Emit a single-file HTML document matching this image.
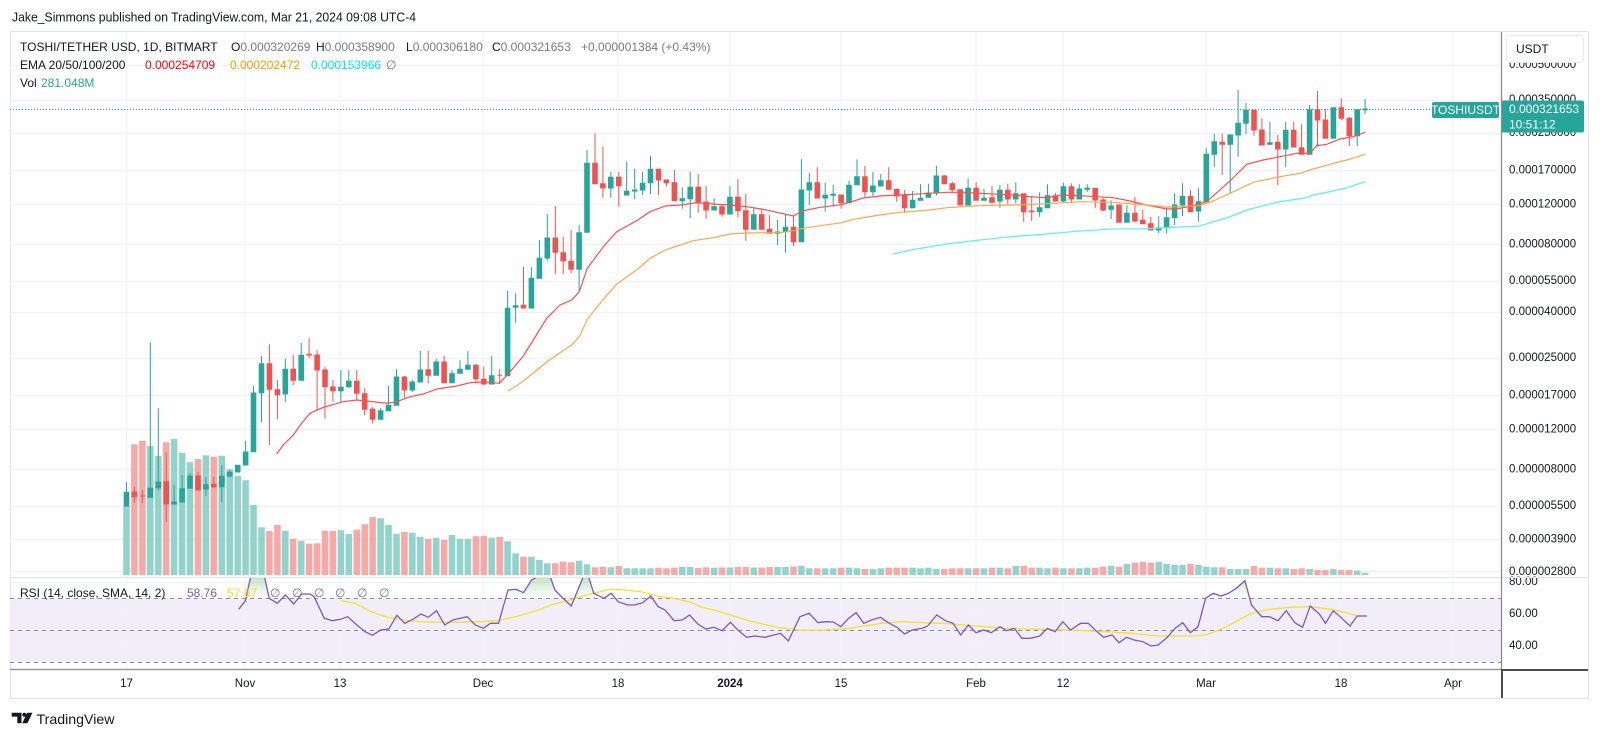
<!DOCTYPE html>
<html><head><meta charset="utf-8"><style>
html,body{margin:0;padding:0;background:#fff;}
svg{display:block;font-family:"Liberation Sans",sans-serif;}
.U .v{fill:#92d3cc}.D .v{fill:#f7a9a7}
.U .c{fill:#26a69a;stroke:#26a69a}.D .c{fill:#ef5350;stroke:#ef5350}
.c{stroke-width:1}
.gl{stroke:#eef1f6;stroke-width:1}
.ax{font-size:11.5px;fill:#131722}
.tl{font-size:11.5px;fill:#131722;text-anchor:middle}
.lg{font-size:12px;fill:#131722}
.gr{fill:#787b86}
</style></head><body>
<svg width="1600" height="738" viewBox="0 0 1600 738" xmlns="http://www.w3.org/2000/svg">
<defs>
<clipPath id="cp"><rect x="10" y="31" width="1491" height="546"/></clipPath>
<clipPath id="cr"><rect x="10" y="578" width="1491" height="91"/></clipPath>
<clipPath id="cob"><rect x="10" y="578" width="1491" height="20"/></clipPath>
<clipPath id="cax"><rect x="1501" y="31" width="87" height="546"/></clipPath>
<linearGradient id="gg" x1="0" y1="576" x2="0" y2="598" gradientUnits="userSpaceOnUse">
<stop offset="0" stop-color="#4caf50" stop-opacity="0.35"/><stop offset="1" stop-color="#4caf50" stop-opacity="0"/>
</linearGradient>
</defs>
<rect width="1600" height="738" fill="#fff"/>
<text x="12" y="17" dominant-baseline="central" font-size="13" fill="#131722" textLength="404" lengthAdjust="spacingAndGlyphs">Jake_Simmons published on TradingView.com, Mar 21, 2024 09:08 UTC-4</text>

<!-- frame -->
<rect x="10.5" y="31.5" width="1578" height="667" fill="#fff" stroke="#e0e3eb"/>

<!-- RSI band -->
<rect x="10" y="598" width="1491" height="64" fill="#f2eef9"/>

<!-- grid -->
<g class="gl">
<path d="M126.5 32V669M245 32V669M340 32V669M483 32V669M618 32V669M730 32V669M841 32V669M976 32V669M1063 32V669M1206 32V669M1341 32V669M1453 32V669"/>
<path d="M10 65.5H1501M10 100.5H1501M10 133.5H1501M10 170.5H1501M10 204.5H1501M10 244.5H1501M10 281.5H1501M10 312.5H1501M10 358.5H1501M10 395.5H1501M10 429.5H1501M10 469.5H1501M10 506.5H1501M10 539.5H1501M10 571.5H1501M10 582.5H1501M10 614.5H1501M10 646.5H1501"/>
</g>
<path d="M10 577.5H1588" stroke="#e0e3eb" stroke-width="1"/>
<path d="M10 598.5H1501M10 630.5H1501M10 662.5H1501" stroke="#8a8d96" stroke-width="1" stroke-dasharray="4,4"/>

<!-- candles + volume -->
<g clip-path="url(#cp)">
<g class="U" transform="translate(126.5)"><path class="v" d="M-3.3 505.7H3.3V575H-3.3Z"/><path class="c" d="M0 482.3V506M-2.3 492.3H2.3V506H-2.3Z"/></g>
<g class="D" transform="translate(134.4)"><path class="v" d="M-3.3 444.3H3.3V575H-3.3Z"/><path class="c" d="M0 486.7V502.7M-2.3 492H2.3V496.7H-2.3Z"/></g>
<g class="D" transform="translate(142.4)"><path class="v" d="M-3.3 440.7H3.3V575H-3.3Z"/><path class="c" d="M0 490V502.7M-2.3 496H2.3V496H-2.3Z"/></g>
<g class="U" transform="translate(150.3)"><path class="v" d="M-3.3 446H3.3V575H-3.3Z"/><path class="c" d="M0 342.3V497.3M-2.3 488.3H2.3V497.3H-2.3Z"/></g>
<g class="U" transform="translate(158.3)"><path class="v" d="M-3.3 456H3.3V575H-3.3Z"/><path class="c" d="M0 408.3V490.7M-2.3 482.3H2.3V487.7H-2.3Z"/></g>
<g class="D" transform="translate(166.2)"><path class="v" d="M-3.3 442.3H3.3V575H-3.3Z"/><path class="c" d="M0 452.3V522M-2.3 481.7H2.3V504H-2.3Z"/></g>
<g class="U" transform="translate(174.1)"><path class="v" d="M-3.3 439H3.3V575H-3.3Z"/><path class="c" d="M0 485V504M-2.3 502H2.3V504H-2.3Z"/></g>
<g class="U" transform="translate(182.1)"><path class="v" d="M-3.3 452.7H3.3V575H-3.3Z"/><path class="c" d="M0 475.3V502M-2.3 488.7H2.3V502H-2.3Z"/></g>
<g class="U" transform="translate(190)"><path class="v" d="M-3.3 462.3H3.3V575H-3.3Z"/><path class="c" d="M0 473.3V488.3M-2.3 476H2.3V488.3H-2.3Z"/></g>
<g class="D" transform="translate(198)"><path class="v" d="M-3.3 459H3.3V575H-3.3Z"/><path class="c" d="M0 472V490M-2.3 476H2.3V490H-2.3Z"/></g>
<g class="U" transform="translate(205.9)"><path class="v" d="M-3.3 455.3H3.3V575H-3.3Z"/><path class="c" d="M0 477.3V495.7M-2.3 484.7H2.3V489H-2.3Z"/></g>
<g class="D" transform="translate(213.8)"><path class="v" d="M-3.3 456.7H3.3V575H-3.3Z"/><path class="c" d="M0 476.7V488.3M-2.3 484.3H2.3V486.7H-2.3Z"/></g>
<g class="U" transform="translate(221.8)"><path class="v" d="M-3.3 455.7H3.3V575H-3.3Z"/><path class="c" d="M0 465.3V502M-2.3 476.3H2.3V486.7H-2.3Z"/></g>
<g class="U" transform="translate(229.7)"><path class="v" d="M-3.3 469.3H3.3V575H-3.3Z"/><path class="c" d="M0 469.7V477.3M-2.3 472.3H2.3V476H-2.3Z"/></g>
<g class="U" transform="translate(237.7)"><path class="v" d="M-3.3 475.7H3.3V575H-3.3Z"/><path class="c" d="M0 465.3V472M-2.3 465.3H2.3V472H-2.3Z"/></g>
<g class="U" transform="translate(245.6)"><path class="v" d="M-3.3 480.3H3.3V575H-3.3Z"/><path class="c" d="M0 440.7V465M-2.3 452H2.3V465H-2.3Z"/></g>
<g class="U" transform="translate(253.5)"><path class="v" d="M-3.3 505H3.3V575H-3.3Z"/><path class="c" d="M0 386V451.7M-2.3 393H2.3V451.7H-2.3Z"/></g>
<g class="U" transform="translate(261.5)"><path class="v" d="M-3.3 527.3H3.3V575H-3.3Z"/><path class="c" d="M0 356V422.3M-2.3 363.7H2.3V392.7H-2.3Z"/></g>
<g class="D" transform="translate(269.4)"><path class="v" d="M-3.3 531H3.3V575H-3.3Z"/><path class="c" d="M0 344.3V445M-2.3 363.7H2.3V389.3H-2.3Z"/></g>
<g class="D" transform="translate(277.4)"><path class="v" d="M-3.3 525H3.3V575H-3.3Z"/><path class="c" d="M0 380V419.3M-2.3 389.7H2.3V394.7H-2.3Z"/></g>
<g class="U" transform="translate(285.3)"><path class="v" d="M-3.3 530.7H3.3V575H-3.3Z"/><path class="c" d="M0 359V402.3M-2.3 369.3H2.3V394H-2.3Z"/></g>
<g class="D" transform="translate(293.2)"><path class="v" d="M-3.3 538.7H3.3V575H-3.3Z"/><path class="c" d="M0 355V385M-2.3 369.3H2.3V380.3H-2.3Z"/></g>
<g class="U" transform="translate(301.2)"><path class="v" d="M-3.3 540.7H3.3V575H-3.3Z"/><path class="c" d="M0 343V380.3M-2.3 355.3H2.3V380.3H-2.3Z"/></g>
<g class="D" transform="translate(309.1)"><path class="v" d="M-3.3 543.7H3.3V575H-3.3Z"/><path class="c" d="M0 338.3V358.3M-2.3 354.3H2.3V355H-2.3Z"/></g>
<g class="D" transform="translate(317.1)"><path class="v" d="M-3.3 543.3H3.3V575H-3.3Z"/><path class="c" d="M0 350V410M-2.3 355H2.3V370H-2.3Z"/></g>
<g class="D" transform="translate(325)"><path class="v" d="M-3.3 530.7H3.3V575H-3.3Z"/><path class="c" d="M0 366.7V418.7M-2.3 370H2.3V386.7H-2.3Z"/></g>
<g class="D" transform="translate(332.9)"><path class="v" d="M-3.3 531H3.3V575H-3.3Z"/><path class="c" d="M0 380V401.7M-2.3 387H2.3V390.7H-2.3Z"/></g>
<g class="U" transform="translate(340.9)"><path class="v" d="M-3.3 530.3H3.3V575H-3.3Z"/><path class="c" d="M0 370V401.7M-2.3 387.3H2.3V390.7H-2.3Z"/></g>
<g class="U" transform="translate(348.8)"><path class="v" d="M-3.3 534H3.3V575H-3.3Z"/><path class="c" d="M0 370V388M-2.3 381.3H2.3V386.7H-2.3Z"/></g>
<g class="D" transform="translate(356.8)"><path class="v" d="M-3.3 529.7H3.3V575H-3.3Z"/><path class="c" d="M0 370V400M-2.3 381.3H2.3V393.3H-2.3Z"/></g>
<g class="D" transform="translate(364.7)"><path class="v" d="M-3.3 524.3H3.3V575H-3.3Z"/><path class="c" d="M0 388.3V415M-2.3 393.7H2.3V409.3H-2.3Z"/></g>
<g class="D" transform="translate(372.6)"><path class="v" d="M-3.3 517H3.3V575H-3.3Z"/><path class="c" d="M0 407.3V423.3M-2.3 409.3H2.3V419.3H-2.3Z"/></g>
<g class="U" transform="translate(380.6)"><path class="v" d="M-3.3 518.3H3.3V575H-3.3Z"/><path class="c" d="M0 408.3V419.3M-2.3 410.7H2.3V419.3H-2.3Z"/></g>
<g class="U" transform="translate(388.5)"><path class="v" d="M-3.3 525H3.3V575H-3.3Z"/><path class="c" d="M0 386V410.7M-2.3 405.3H2.3V410.7H-2.3Z"/></g>
<g class="U" transform="translate(396.5)"><path class="v" d="M-3.3 533.7H3.3V575H-3.3Z"/><path class="c" d="M0 369.3V405.3M-2.3 377H2.3V405.3H-2.3Z"/></g>
<g class="D" transform="translate(404.4)"><path class="v" d="M-3.3 532H3.3V575H-3.3Z"/><path class="c" d="M0 376V398.3M-2.3 377H2.3V390H-2.3Z"/></g>
<g class="U" transform="translate(412.3)"><path class="v" d="M-3.3 532.7H3.3V575H-3.3Z"/><path class="c" d="M0 380V392M-2.3 382H2.3V390H-2.3Z"/></g>
<g class="U" transform="translate(420.3)"><path class="v" d="M-3.3 537H3.3V575H-3.3Z"/><path class="c" d="M0 351V382M-2.3 370H2.3V382H-2.3Z"/></g>
<g class="D" transform="translate(428.2)"><path class="v" d="M-3.3 538.7H3.3V575H-3.3Z"/><path class="c" d="M0 351V383.3M-2.3 369.7H2.3V375.3H-2.3Z"/></g>
<g class="U" transform="translate(436.2)"><path class="v" d="M-3.3 537.7H3.3V575H-3.3Z"/><path class="c" d="M0 358.7V375.3M-2.3 362H2.3V375.3H-2.3Z"/></g>
<g class="D" transform="translate(444.1)"><path class="v" d="M-3.3 540H3.3V575H-3.3Z"/><path class="c" d="M0 355.7V383.3M-2.3 362H2.3V382.7H-2.3Z"/></g>
<g class="U" transform="translate(452)"><path class="v" d="M-3.3 535H3.3V575H-3.3Z"/><path class="c" d="M0 370V382.7M-2.3 373.7H2.3V382.7H-2.3Z"/></g>
<g class="U" transform="translate(460)"><path class="v" d="M-3.3 539H3.3V575H-3.3Z"/><path class="c" d="M0 360.3V373.3M-2.3 369.3H2.3V373.3H-2.3Z"/></g>
<g class="U" transform="translate(467.9)"><path class="v" d="M-3.3 539H3.3V575H-3.3Z"/><path class="c" d="M0 351V369.3M-2.3 365.3H2.3V369.3H-2.3Z"/></g>
<g class="D" transform="translate(475.9)"><path class="v" d="M-3.3 536.3H3.3V575H-3.3Z"/><path class="c" d="M0 364V383.3M-2.3 365.3H2.3V378.7H-2.3Z"/></g>
<g class="D" transform="translate(483.8)"><path class="v" d="M-3.3 535.7H3.3V575H-3.3Z"/><path class="c" d="M0 366.7V385.3M-2.3 379.3H2.3V384H-2.3Z"/></g>
<g class="U" transform="translate(491.7)"><path class="v" d="M-3.3 537.7H3.3V575H-3.3Z"/><path class="c" d="M0 356V384M-2.3 375.7H2.3V384H-2.3Z"/></g>
<g class="D" transform="translate(499.7)"><path class="v" d="M-3.3 537H3.3V575H-3.3Z"/><path class="c" d="M0 369.3V384M-2.3 375.3H2.3V375.3H-2.3Z"/></g>
<g class="U" transform="translate(507.6)"><path class="v" d="M-3.3 541.3H3.3V575H-3.3Z"/><path class="c" d="M0 291V375.7M-2.3 308.3H2.3V375.7H-2.3Z"/></g>
<g class="U" transform="translate(515.6)"><path class="v" d="M-3.3 553.3H3.3V575H-3.3Z"/><path class="c" d="M0 293.3V322.7M-2.3 305.7H2.3V307.3H-2.3Z"/></g>
<g class="D" transform="translate(523.5)"><path class="v" d="M-3.3 556.7H3.3V575H-3.3Z"/><path class="c" d="M0 266.7V308M-2.3 305.3H2.3V308H-2.3Z"/></g>
<g class="U" transform="translate(531.4)"><path class="v" d="M-3.3 556.7H3.3V575H-3.3Z"/><path class="c" d="M0 267.3V308M-2.3 278.3H2.3V308H-2.3Z"/></g>
<g class="U" transform="translate(539.4)"><path class="v" d="M-3.3 560H3.3V575H-3.3Z"/><path class="c" d="M0 240V278.3M-2.3 258.3H2.3V278.3H-2.3Z"/></g>
<g class="U" transform="translate(547.3)"><path class="v" d="M-3.3 563.3H3.3V575H-3.3Z"/><path class="c" d="M0 214V260.7M-2.3 238H2.3V258H-2.3Z"/></g>
<g class="D" transform="translate(555.3)"><path class="v" d="M-3.3 563.3H3.3V575H-3.3Z"/><path class="c" d="M0 206V274.3M-2.3 238H2.3V252.3H-2.3Z"/></g>
<g class="D" transform="translate(563.2)"><path class="v" d="M-3.3 561.7H3.3V575H-3.3Z"/><path class="c" d="M0 236.7V274.3M-2.3 252.7H2.3V260.7H-2.3Z"/></g>
<g class="D" transform="translate(571.1)"><path class="v" d="M-3.3 562.3H3.3V575H-3.3Z"/><path class="c" d="M0 230V273.3M-2.3 261.3H2.3V269.3H-2.3Z"/></g>
<g class="U" transform="translate(579.1)"><path class="v" d="M-3.3 560.7H3.3V575H-3.3Z"/><path class="c" d="M0 224.7V290M-2.3 232.7H2.3V269.3H-2.3Z"/></g>
<g class="U" transform="translate(587)"><path class="v" d="M-3.3 564.3H3.3V575H-3.3Z"/><path class="c" d="M0 150V232.3M-2.3 163.3H2.3V232.3H-2.3Z"/></g>
<g class="D" transform="translate(595)"><path class="v" d="M-3.3 567.3H3.3V575H-3.3Z"/><path class="c" d="M0 133.3V183.7M-2.3 163.3H2.3V183.7H-2.3Z"/></g>
<g class="D" transform="translate(602.9)"><path class="v" d="M-3.3 566.7H3.3V575H-3.3Z"/><path class="c" d="M0 146.7V197.7M-2.3 183.7H2.3V188H-2.3Z"/></g>
<g class="U" transform="translate(610.8)"><path class="v" d="M-3.3 567.3H3.3V575H-3.3Z"/><path class="c" d="M0 171.7V197.7M-2.3 177.3H2.3V188H-2.3Z"/></g>
<g class="D" transform="translate(618.8)"><path class="v" d="M-3.3 566H3.3V575H-3.3Z"/><path class="c" d="M0 172V206.7M-2.3 177.3H2.3V185.7H-2.3Z"/></g>
<g class="U" transform="translate(626.7)"><path class="v" d="M-3.3 568.3H3.3V575H-3.3Z"/><path class="c" d="M0 161.7V195M-2.3 191.3H2.3V195H-2.3Z"/></g>
<g class="U" transform="translate(634.7)"><path class="v" d="M-3.3 568.3H3.3V575H-3.3Z"/><path class="c" d="M0 168.7V199.3M-2.3 190H2.3V191H-2.3Z"/></g>
<g class="U" transform="translate(642.6)"><path class="v" d="M-3.3 568.3H3.3V575H-3.3Z"/><path class="c" d="M0 171.7V195M-2.3 183.3H2.3V190H-2.3Z"/></g>
<g class="U" transform="translate(650.5)"><path class="v" d="M-3.3 568.3H3.3V575H-3.3Z"/><path class="c" d="M0 155.7V194M-2.3 169.3H2.3V182.7H-2.3Z"/></g>
<g class="D" transform="translate(658.5)"><path class="v" d="M-3.3 567.7H3.3V575H-3.3Z"/><path class="c" d="M0 169.3V195M-2.3 169.3H2.3V180H-2.3Z"/></g>
<g class="D" transform="translate(666.4)"><path class="v" d="M-3.3 568.3H3.3V575H-3.3Z"/><path class="c" d="M0 180V186.7M-2.3 180H2.3V182.7H-2.3Z"/></g>
<g class="D" transform="translate(674.4)"><path class="v" d="M-3.3 567.7H3.3V575H-3.3Z"/><path class="c" d="M0 170V200.7M-2.3 182.7H2.3V200.7H-2.3Z"/></g>
<g class="U" transform="translate(682.3)"><path class="v" d="M-3.3 567H3.3V575H-3.3Z"/><path class="c" d="M0 187.3V208.7M-2.3 198.7H2.3V200.7H-2.3Z"/></g>
<g class="U" transform="translate(690.2)"><path class="v" d="M-3.3 567H3.3V575H-3.3Z"/><path class="c" d="M0 171.7V218.3M-2.3 187.3H2.3V198.7H-2.3Z"/></g>
<g class="D" transform="translate(698.2)"><path class="v" d="M-3.3 568H3.3V575H-3.3Z"/><path class="c" d="M0 174V212.7M-2.3 187.3H2.3V202H-2.3Z"/></g>
<g class="D" transform="translate(706.1)"><path class="v" d="M-3.3 567.3H3.3V575H-3.3Z"/><path class="c" d="M0 186V218.7M-2.3 202H2.3V210H-2.3Z"/></g>
<g class="U" transform="translate(714.1)"><path class="v" d="M-3.3 567.7H3.3V575H-3.3Z"/><path class="c" d="M0 198.3V210M-2.3 206.7H2.3V210H-2.3Z"/></g>
<g class="D" transform="translate(722)"><path class="v" d="M-3.3 567.5H3.3V575H-3.3Z"/><path class="c" d="M0 204V216.7M-2.3 206.7H2.3V214H-2.3Z"/></g>
<g class="U" transform="translate(729.9)"><path class="v" d="M-3.3 567.5H3.3V575H-3.3Z"/><path class="c" d="M0 186V214M-2.3 197.3H2.3V214H-2.3Z"/></g>
<g class="D" transform="translate(737.9)"><path class="v" d="M-3.3 567H3.3V575H-3.3Z"/><path class="c" d="M0 179.3V217.3M-2.3 197.3H2.3V210.7H-2.3Z"/></g>
<g class="D" transform="translate(745.8)"><path class="v" d="M-3.3 567H3.3V575H-3.3Z"/><path class="c" d="M0 194V240.7M-2.3 210.7H2.3V229.3H-2.3Z"/></g>
<g class="U" transform="translate(753.8)"><path class="v" d="M-3.3 567.5H3.3V575H-3.3Z"/><path class="c" d="M0 208.3V229.3M-2.3 214.7H2.3V229.3H-2.3Z"/></g>
<g class="D" transform="translate(761.7)"><path class="v" d="M-3.3 567.5H3.3V575H-3.3Z"/><path class="c" d="M0 208.7V229.3M-2.3 214.7H2.3V229.3H-2.3Z"/></g>
<g class="D" transform="translate(769.6)"><path class="v" d="M-3.3 567H3.3V575H-3.3Z"/><path class="c" d="M0 215.3V233.3M-2.3 229.3H2.3V233.3H-2.3Z"/></g>
<g class="U" transform="translate(777.6)"><path class="v" d="M-3.3 567H3.3V575H-3.3Z"/><path class="c" d="M0 220V245M-2.3 232H2.3V233.3H-2.3Z"/></g>
<g class="U" transform="translate(785.5)"><path class="v" d="M-3.3 567H3.3V575H-3.3Z"/><path class="c" d="M0 214.7V252.7M-2.3 227.3H2.3V231.7H-2.3Z"/></g>
<g class="D" transform="translate(793.5)"><path class="v" d="M-3.3 566.5H3.3V575H-3.3Z"/><path class="c" d="M0 215.3V246M-2.3 227.3H2.3V241.7H-2.3Z"/></g>
<g class="U" transform="translate(801.4)"><path class="v" d="M-3.3 565.7H3.3V575H-3.3Z"/><path class="c" d="M0 159.3V241.7M-2.3 190H2.3V241.7H-2.3Z"/></g>
<g class="U" transform="translate(809.3)"><path class="v" d="M-3.3 568.3H3.3V575H-3.3Z"/><path class="c" d="M0 172.7V205M-2.3 182.7H2.3V190H-2.3Z"/></g>
<g class="D" transform="translate(817.3)"><path class="v" d="M-3.3 568.3H3.3V575H-3.3Z"/><path class="c" d="M0 167.3V198M-2.3 182.7H2.3V198H-2.3Z"/></g>
<g class="U" transform="translate(825.2)"><path class="v" d="M-3.3 568.3H3.3V575H-3.3Z"/><path class="c" d="M0 182.7V211.7M-2.3 195.3H2.3V198H-2.3Z"/></g>
<g class="U" transform="translate(833.2)"><path class="v" d="M-3.3 568.3H3.3V575H-3.3Z"/><path class="c" d="M0 185V206.7M-2.3 194.3H2.3V195.3H-2.3Z"/></g>
<g class="D" transform="translate(841.1)"><path class="v" d="M-3.3 567.7H3.3V575H-3.3Z"/><path class="c" d="M0 195V208.7M-2.3 195H2.3V202.7H-2.3Z"/></g>
<g class="U" transform="translate(849)"><path class="v" d="M-3.3 567.7H3.3V575H-3.3Z"/><path class="c" d="M0 180.7V202.7M-2.3 185.3H2.3V202.7H-2.3Z"/></g>
<g class="U" transform="translate(857)"><path class="v" d="M-3.3 568.3H3.3V575H-3.3Z"/><path class="c" d="M0 159.3V184.7M-2.3 176.7H2.3V184.7H-2.3Z"/></g>
<g class="D" transform="translate(864.9)"><path class="v" d="M-3.3 569H3.3V575H-3.3Z"/><path class="c" d="M0 166V197.3M-2.3 176.7H2.3V191.7H-2.3Z"/></g>
<g class="U" transform="translate(872.9)"><path class="v" d="M-3.3 569H3.3V575H-3.3Z"/><path class="c" d="M0 172V196M-2.3 186H2.3V191.7H-2.3Z"/></g>
<g class="U" transform="translate(880.8)"><path class="v" d="M-3.3 568.3H3.3V575H-3.3Z"/><path class="c" d="M0 174V186M-2.3 180.7H2.3V186H-2.3Z"/></g>
<g class="D" transform="translate(888.7)"><path class="v" d="M-3.3 567.7H3.3V575H-3.3Z"/><path class="c" d="M0 167.3V189.3M-2.3 180.7H2.3V189.3H-2.3Z"/></g>
<g class="D" transform="translate(896.7)"><path class="v" d="M-3.3 567.7H3.3V575H-3.3Z"/><path class="c" d="M0 189.3V201.7M-2.3 189.3H2.3V196H-2.3Z"/></g>
<g class="D" transform="translate(904.6)"><path class="v" d="M-3.3 567.7H3.3V575H-3.3Z"/><path class="c" d="M0 190V213.3M-2.3 195H2.3V207.7H-2.3Z"/></g>
<g class="U" transform="translate(912.6)"><path class="v" d="M-3.3 567.7H3.3V575H-3.3Z"/><path class="c" d="M0 191V207.7M-2.3 200.3H2.3V207.7H-2.3Z"/></g>
<g class="U" transform="translate(920.5)"><path class="v" d="M-3.3 568.3H3.3V575H-3.3Z"/><path class="c" d="M0 184.3V200.3M-2.3 198.3H2.3V200.3H-2.3Z"/></g>
<g class="U" transform="translate(928.4)"><path class="v" d="M-3.3 567.7H3.3V575H-3.3Z"/><path class="c" d="M0 183.7V197.3M-2.3 193H2.3V197.3H-2.3Z"/></g>
<g class="U" transform="translate(936.4)"><path class="v" d="M-3.3 569H3.3V575H-3.3Z"/><path class="c" d="M0 165.7V195.7M-2.3 176H2.3V193H-2.3Z"/></g>
<g class="D" transform="translate(944.3)"><path class="v" d="M-3.3 569H3.3V575H-3.3Z"/><path class="c" d="M0 175V183.7M-2.3 176H2.3V183.7H-2.3Z"/></g>
<g class="D" transform="translate(952.3)"><path class="v" d="M-3.3 568.3H3.3V575H-3.3Z"/><path class="c" d="M0 181.7V191.7M-2.3 183.7H2.3V189.7H-2.3Z"/></g>
<g class="D" transform="translate(960.2)"><path class="v" d="M-3.3 568.3H3.3V575H-3.3Z"/><path class="c" d="M0 189.7V205M-2.3 189.7H2.3V205H-2.3Z"/></g>
<g class="U" transform="translate(968.1)"><path class="v" d="M-3.3 568.3H3.3V575H-3.3Z"/><path class="c" d="M0 178.3V205M-2.3 188.3H2.3V205H-2.3Z"/></g>
<g class="D" transform="translate(976.1)"><path class="v" d="M-3.3 568.3H3.3V575H-3.3Z"/><path class="c" d="M0 182.3V200.3M-2.3 188.3H2.3V200.3H-2.3Z"/></g>
<g class="U" transform="translate(984)"><path class="v" d="M-3.3 568.3H3.3V575H-3.3Z"/><path class="c" d="M0 189V201M-2.3 198.3H2.3V200.3H-2.3Z"/></g>
<g class="D" transform="translate(992)"><path class="v" d="M-3.3 567.7H3.3V575H-3.3Z"/><path class="c" d="M0 185.7V203.3M-2.3 197.7H2.3V202.3H-2.3Z"/></g>
<g class="U" transform="translate(999.9)"><path class="v" d="M-3.3 567.7H3.3V575H-3.3Z"/><path class="c" d="M0 185V207.7M-2.3 190.3H2.3V201H-2.3Z"/></g>
<g class="D" transform="translate(1007.8)"><path class="v" d="M-3.3 568.3H3.3V575H-3.3Z"/><path class="c" d="M0 183.7V204.3M-2.3 190.3H2.3V199H-2.3Z"/></g>
<g class="U" transform="translate(1015.8)"><path class="v" d="M-3.3 566H3.3V575H-3.3Z"/><path class="c" d="M0 182.3V203.3M-2.3 193.7H2.3V199H-2.3Z"/></g>
<g class="D" transform="translate(1023.7)"><path class="v" d="M-3.3 566H3.3V575H-3.3Z"/><path class="c" d="M0 193.7V221.7M-2.3 193.7H2.3V211.7H-2.3Z"/></g>
<g class="D" transform="translate(1031.7)"><path class="v" d="M-3.3 567.7H3.3V575H-3.3Z"/><path class="c" d="M0 195.7V221M-2.3 211H2.3V211.7H-2.3Z"/></g>
<g class="U" transform="translate(1039.6)"><path class="v" d="M-3.3 567.7H3.3V575H-3.3Z"/><path class="c" d="M0 192.3V216.7M-2.3 207.7H2.3V211.7H-2.3Z"/></g>
<g class="U" transform="translate(1047.5)"><path class="v" d="M-3.3 568.3H3.3V575H-3.3Z"/><path class="c" d="M0 184.3V207.7M-2.3 195.7H2.3V207.7H-2.3Z"/></g>
<g class="D" transform="translate(1055.5)"><path class="v" d="M-3.3 567.7H3.3V575H-3.3Z"/><path class="c" d="M0 193.3V201M-2.3 195.7H2.3V201H-2.3Z"/></g>
<g class="U" transform="translate(1063.4)"><path class="v" d="M-3.3 568.3H3.3V575H-3.3Z"/><path class="c" d="M0 182.7V203.3M-2.3 186.7H2.3V201H-2.3Z"/></g>
<g class="D" transform="translate(1071.4)"><path class="v" d="M-3.3 568.3H3.3V575H-3.3Z"/><path class="c" d="M0 183.3V203.3M-2.3 186.7H2.3V199H-2.3Z"/></g>
<g class="U" transform="translate(1079.3)"><path class="v" d="M-3.3 568.3H3.3V575H-3.3Z"/><path class="c" d="M0 184.3V199M-2.3 189H2.3V199H-2.3Z"/></g>
<g class="U" transform="translate(1087.2)"><path class="v" d="M-3.3 567.7H3.3V575H-3.3Z"/><path class="c" d="M0 184.3V192.3M-2.3 188.3H2.3V189.3H-2.3Z"/></g>
<g class="D" transform="translate(1095.2)"><path class="v" d="M-3.3 567.7H3.3V575H-3.3Z"/><path class="c" d="M0 187.7V208.3M-2.3 188.3H2.3V200H-2.3Z"/></g>
<g class="D" transform="translate(1103.1)"><path class="v" d="M-3.3 566.7H3.3V575H-3.3Z"/><path class="c" d="M0 197.7V211M-2.3 200H2.3V210H-2.3Z"/></g>
<g class="U" transform="translate(1111.1)"><path class="v" d="M-3.3 565.7H3.3V575H-3.3Z"/><path class="c" d="M0 200.3V219M-2.3 206H2.3V209.3H-2.3Z"/></g>
<g class="D" transform="translate(1119)"><path class="v" d="M-3.3 566.7H3.3V575H-3.3Z"/><path class="c" d="M0 205V222.3M-2.3 205H2.3V222.3H-2.3Z"/></g>
<g class="U" transform="translate(1126.9)"><path class="v" d="M-3.3 564H3.3V575H-3.3Z"/><path class="c" d="M0 205V222.3M-2.3 213.3H2.3V222.3H-2.3Z"/></g>
<g class="D" transform="translate(1134.9)"><path class="v" d="M-3.3 562.7H3.3V575H-3.3Z"/><path class="c" d="M0 196.7V222.3M-2.3 213.3H2.3V221H-2.3Z"/></g>
<g class="D" transform="translate(1142.8)"><path class="v" d="M-3.3 562H3.3V575H-3.3Z"/><path class="c" d="M0 209.7V223.7M-2.3 220.3H2.3V223.7H-2.3Z"/></g>
<g class="D" transform="translate(1150.8)"><path class="v" d="M-3.3 562.7H3.3V575H-3.3Z"/><path class="c" d="M0 216.7V230M-2.3 223.7H2.3V230H-2.3Z"/></g>
<g class="U" transform="translate(1158.7)"><path class="v" d="M-3.3 562H3.3V575H-3.3Z"/><path class="c" d="M0 216.3V233M-2.3 227.7H2.3V230H-2.3Z"/></g>
<g class="U" transform="translate(1166.6)"><path class="v" d="M-3.3 564H3.3V575H-3.3Z"/><path class="c" d="M0 207.7V233.7M-2.3 217.7H2.3V227.7H-2.3Z"/></g>
<g class="U" transform="translate(1174.6)"><path class="v" d="M-3.3 565H3.3V575H-3.3Z"/><path class="c" d="M0 193.3V225M-2.3 205H2.3V217.7H-2.3Z"/></g>
<g class="U" transform="translate(1182.5)"><path class="v" d="M-3.3 565H3.3V575H-3.3Z"/><path class="c" d="M0 183.3V216M-2.3 196.3H2.3V205H-2.3Z"/></g>
<g class="D" transform="translate(1190.5)"><path class="v" d="M-3.3 564H3.3V575H-3.3Z"/><path class="c" d="M0 190V211.7M-2.3 196.3H2.3V211.7H-2.3Z"/></g>
<g class="U" transform="translate(1198.4)"><path class="v" d="M-3.3 565H3.3V575H-3.3Z"/><path class="c" d="M0 187.7V221.7M-2.3 201.7H2.3V211H-2.3Z"/></g>
<g class="U" transform="translate(1206.3)"><path class="v" d="M-3.3 566.7H3.3V575H-3.3Z"/><path class="c" d="M0 148.3V201.7M-2.3 154.3H2.3V201.7H-2.3Z"/></g>
<g class="U" transform="translate(1214.3)"><path class="v" d="M-3.3 567.3H3.3V575H-3.3Z"/><path class="c" d="M0 133.7V166.7M-2.3 141.7H2.3V154.3H-2.3Z"/></g>
<g class="D" transform="translate(1222.2)"><path class="v" d="M-3.3 567.3H3.3V575H-3.3Z"/><path class="c" d="M0 133.7V175M-2.3 142.3H2.3V144.3H-2.3Z"/></g>
<g class="U" transform="translate(1230.2)"><path class="v" d="M-3.3 569H3.3V575H-3.3Z"/><path class="c" d="M0 134.3V193.7M-2.3 135H2.3V144.3H-2.3Z"/></g>
<g class="U" transform="translate(1238.1)"><path class="v" d="M-3.3 569H3.3V575H-3.3Z"/><path class="c" d="M0 90V156.7M-2.3 123.3H2.3V135H-2.3Z"/></g>
<g class="U" transform="translate(1246)"><path class="v" d="M-3.3 569H3.3V575H-3.3Z"/><path class="c" d="M0 103V133.7M-2.3 110.3H2.3V123.3H-2.3Z"/></g>
<g class="D" transform="translate(1254)"><path class="v" d="M-3.3 566H3.3V575H-3.3Z"/><path class="c" d="M0 109.7V135.7M-2.3 110.3H2.3V130H-2.3Z"/></g>
<g class="D" transform="translate(1261.9)"><path class="v" d="M-3.3 567.7H3.3V575H-3.3Z"/><path class="c" d="M0 118.3V145M-2.3 130H2.3V145H-2.3Z"/></g>
<g class="U" transform="translate(1269.9)"><path class="v" d="M-3.3 567.7H3.3V575H-3.3Z"/><path class="c" d="M0 121.7V145M-2.3 142.7H2.3V144.3H-2.3Z"/></g>
<g class="D" transform="translate(1277.8)"><path class="v" d="M-3.3 568.3H3.3V575H-3.3Z"/><path class="c" d="M0 135V185M-2.3 142.3H2.3V149H-2.3Z"/></g>
<g class="U" transform="translate(1285.7)"><path class="v" d="M-3.3 568.3H3.3V575H-3.3Z"/><path class="c" d="M0 121.7V166.7M-2.3 130.3H2.3V149H-2.3Z"/></g>
<g class="D" transform="translate(1293.7)"><path class="v" d="M-3.3 569H3.3V575H-3.3Z"/><path class="c" d="M0 121.7V147M-2.3 130.3H2.3V147H-2.3Z"/></g>
<g class="D" transform="translate(1301.6)"><path class="v" d="M-3.3 568.3H3.3V575H-3.3Z"/><path class="c" d="M0 124.3V154.3M-2.3 147.7H2.3V154.3H-2.3Z"/></g>
<g class="U" transform="translate(1309.6)"><path class="v" d="M-3.3 569H3.3V575H-3.3Z"/><path class="c" d="M0 105V154.3M-2.3 109.7H2.3V154.3H-2.3Z"/></g>
<g class="D" transform="translate(1317.5)"><path class="v" d="M-3.3 570H3.3V575H-3.3Z"/><path class="c" d="M0 91V146.7M-2.3 109.7H2.3V120H-2.3Z"/></g>
<g class="D" transform="translate(1325.4)"><path class="v" d="M-3.3 570H3.3V575H-3.3Z"/><path class="c" d="M0 109V138.3M-2.3 120H2.3V138.3H-2.3Z"/></g>
<g class="U" transform="translate(1333.4)"><path class="v" d="M-3.3 569H3.3V575H-3.3Z"/><path class="c" d="M0 107.7V138.3M-2.3 107.7H2.3V138.3H-2.3Z"/></g>
<g class="D" transform="translate(1341.3)"><path class="v" d="M-3.3 570H3.3V575H-3.3Z"/><path class="c" d="M0 98.3V120M-2.3 107.7H2.3V118.3H-2.3Z"/></g>
<g class="D" transform="translate(1349.3)"><path class="v" d="M-3.3 570H3.3V575H-3.3Z"/><path class="c" d="M0 116.7V146M-2.3 118.3H2.3V135.7H-2.3Z"/></g>
<g class="U" transform="translate(1357.2)"><path class="v" d="M-3.3 570.5H3.3V575H-3.3Z"/><path class="c" d="M0 109.7V146M-2.3 109.7H2.3V135.7H-2.3Z"/></g>
<g class="U" transform="translate(1365.1)"><path class="v" d="M-3.3 572.7H3.3V575H-3.3Z"/><path class="c" d="M0 99V114.3M-2.3 109H2.3V109.7H-2.3Z"/></g>

<!-- EMAs -->
<polyline fill="none" stroke="#ff4d4d" stroke-width="1.2" points="276.7,454 283.3,445 293.3,435 301.7,423.3 310,413.3 323.3,407.3 343.3,401.7 356.7,400 373.3,401.7 386.7,403.3 396.7,401.7 410,396.7 423.3,394 436.7,389 456.7,386 470,382.7 483.3,382 499.3,383.3 507.3,375 523.3,356 533.3,340 546.7,318.3 560,305 571.7,300 579.3,291.7 587.3,268.3 603.3,246.7 616.7,231.7 636.7,220.7 650,211.7 665.3,206 680,205 696.7,202.7 713.3,204 730,205 746.7,206.7 763.3,209.3 793.3,216 803.3,210.7 820,207.3 841.7,204.7 863.3,198 880,196 896.7,195 913.3,194.3 930,193.3 946.7,192.3 963.3,192.3 980,193.3 1013.3,195 1030,196.7 1046.7,197.7 1063.3,195 1080,195.7 1096.7,196.7 1113.3,197.7 1130,201 1146.7,205 1166.7,209 1180,208.3 1193.3,205.7 1206.7,201.7 1230,181 1246.7,164.3 1263.3,160 1280,156.7 1296.7,153.3 1310,153.3 1316.7,145.7 1326.7,144.3 1340,139 1353.3,136.7 1365.3,132.3"/>
<polyline fill="none" stroke="#ffa64d" stroke-width="1.2" points="508,391 516,386 523.3,381 533.3,373 546.7,362 560,352.7 571.7,345 579.3,336.7 587.3,319.3 603.3,299.3 616.7,284 636.7,270 650,258.3 665.3,250 680,245 693.3,240.7 713.3,237.7 730,234 746.7,233 763.3,232.7 780,232.7 793.3,230.7 803.3,228.3 813.3,226.7 841.7,222.7 853.3,219.3 880,215 900,212.3 930,210 946.7,207.7 980,205.7 1013.3,205 1046.7,203.7 1080,201.7 1113.3,202.3 1146.7,205 1166.7,207 1180,206.7 1200,205.7 1213.3,201 1230,193.3 1253.3,182.3 1280,176.7 1300,173.3 1313.3,169 1330,164.3 1346.7,160 1365.3,154.3"/>
<polyline fill="none" stroke="#5cf2f2" stroke-width="1.3" points="893,254 913.3,249.5 946.7,244 980,240 1013.3,236.5 1046.7,234 1080,231 1113.3,229 1146.7,228.7 1180,227 1200,226 1213.3,221.7 1230,216.7 1246.7,210 1263.3,205.7 1280,201.7 1303.3,198.3 1313.3,195 1330,191.7 1346.7,187.7 1365.3,181.7"/>
</g>

<!-- price line -->
<path d="M10 109.5H1432" stroke="#26a69a" stroke-width="1" stroke-dasharray="1,2"/>

<!-- RSI -->
<g clip-path="url(#cob)">
<polygon fill="url(#gg)" points="238.6,598 238.6,609.3 245.5,600.7 250.8,576 264.3,576 269.2,598.3 277.3,603.3 285.5,595 293.7,604 301.8,594 310,594 314.1,596.7 324.3,618.3 332.4,620.7 340.6,619.3 498.6,623.3 508,590 516.1,589.3 523.5,592.7 531.6,580 538.6,576 550,576 554.9,590 563.1,598.3 571.2,606 578.6,588.3 583.5,576 588.4,576 593.7,593.3 603.9,598.3 611.2,593.3 618.2,601.7 1198,626.7 1205.6,598.3 1213.3,593.3 1220.9,596 1228.6,593.3 1236.2,588.3 1244.9,580.7 1251.5,605 1363.8,616 1363.8,598"/>
</g>
<g clip-path="url(#cr)" fill="none" stroke-width="1.3">
<polyline stroke="#f5e030" points="340.6,600.7 354.9,603.3 371.2,611.7 387.6,617.3 403.9,620 420.2,621.7 436.5,622.3 456.9,622.3 477.3,621.7 497.8,620.7 518.2,616 538.6,610 550.8,605 567.1,600.7 583.5,595.7 599.8,591.7 611.2,589 624.3,590 640.6,591.7 656.9,596 673.3,598.3 689.6,601.7 701.8,607.3 714.1,610 730.4,615 750,621 775.5,627 800,630.3 825.5,630 848.5,628.3 866.3,625.7 881.6,623.3 902,621.7 922.4,622.7 942.9,623.3 963.3,625 983.7,626.7 1004.1,628.3 1024.5,629 1044.9,629.3 1065.3,630 1085.7,630.7 1106.1,631.7 1131.6,633.3 1157.1,636 1177.6,636 1198,636 1208.2,634 1223.5,628.3 1238.8,620 1251.5,613.3 1269.4,609.3 1289.8,607.3 1310.2,606.7 1330.6,609.3 1345.9,612.7 1361.2,616.7"/>
<polyline stroke="#7e57c2" points="238.6,609.3 245.5,600.7 250.8,576 264.3,576 269.2,598.3 277.3,603.3 285.5,595 293.7,604 301.8,594 310,594 314.1,596.7 324.3,618.3 332.4,620.7 340.6,619.3 347.6,616.7 356.9,625 365.1,631.7 372.4,635.3 380.6,630 388.8,629 396.9,615.3 404.7,623.3 412.9,619.3 421,614 428.4,617.3 436.5,610.7 444.7,625 452.9,620 467.1,616.7 475.3,625 483.5,628.3 490.4,623.3 498.6,623.3 508,590 516.1,589.3 523.5,592.7 531.6,580 538.6,576 550,576 554.9,590 563.1,598.3 571.2,606 578.6,588.3 583.5,576 588.4,576 593.7,593.3 603.9,598.3 611.2,593.3 618.2,601.7 627.6,605 634.5,605 642.7,602.7 650.8,596 658.2,606.7 665.1,610 674.1,620.7 682.2,620 689.6,615 697.8,624 705.9,629 714.1,627.3 722.2,630.7 730.4,622.3 738.6,630.7 746.7,637.3 755,636 765,637.3 780.6,633.3 788.3,641 800,616.7 809.2,613.3 817.9,622.7 825.5,621.7 833.2,622 840.8,626.7 848.5,618.3 856.1,612.7 863.8,623.3 871.4,620 880.6,617.3 889.3,623.3 896.9,627.3 904.6,634 912.2,630 922.4,628.3 927.6,626 936.7,615 945.4,620.7 953.1,623.3 960.7,635 968.4,625 976,632.7 983.7,630 991.3,632.7 1000,626.7 1006.6,630.7 1014.3,628.3 1021.9,638.3 1030.6,638.3 1039.8,636 1047.4,628.3 1055.1,631.7 1062.8,621.7 1070.4,630 1080.6,623.3 1088.3,623.3 1095.9,630.7 1103.6,637.3 1112.2,635 1118.9,642.7 1126.5,637.3 1134.2,640 1142.9,641.7 1151,646 1158.2,645 1167.3,637.3 1175,628.3 1182.7,622.7 1190.3,632.7 1198,626.7 1205.6,598.3 1213.3,593.3 1220.9,596 1228.6,593.3 1236.2,588.3 1244.9,580.7 1251.5,605 1261.7,616.7 1269.4,616.7 1278.1,620.7 1286.2,610.7 1294.9,622.7 1302.6,627.3 1310.2,606 1319.4,614 1325.5,623.3 1333.2,610.7 1340.8,617.3 1350,626 1357.1,616 1367,616"/>
</g>

<!-- legends -->
<g class="lg" dominant-baseline="central">
<text x="20" y="47">TOSHI/TETHER USD, 1D, BITMART</text>
<text x="231" y="47">O<tspan class="gr">0.000320269</tspan></text>
<text x="316" y="47">H<tspan class="gr">0.000358900</tspan></text>
<text x="406" y="47">L<tspan class="gr">0.000306180</tspan></text>
<text x="492" y="47">C<tspan class="gr">0.000321653</tspan></text>
<text x="581" y="47" class="gr">+0.000001384 (+0.43%)</text>
<text x="20" y="65">EMA 20/50/100/200</text>
<text x="145" y="65" fill="#ff0000">0.000254709</text>
<text x="230" y="65" fill="#ff9800">0.000202472</text>
<text x="311" y="65" fill="#00e5ff">0.000153966</text>
<text x="386" y="65" class="gr">∅</text>
<text x="20" y="83">Vol</text>
<text x="41" y="83" fill="#26a69a">281.048M</text>
<text x="20" y="593">RSI (14, close, SMA, 14, 2)</text>
<text x="187" y="593" fill="#7e57c2">58.76</text>
<text x="227" y="593" fill="#f5dc1e">57.67</text>
<text x="270" y="593" class="gr">∅</text>
<text x="292" y="593" class="gr">∅</text>
<text x="314" y="593" class="gr">∅</text>
<text x="335" y="593" class="gr">∅</text>
<text x="357" y="593" class="gr">∅</text>
<text x="379" y="593" class="gr">∅</text>
</g>

<!-- price axis -->
<rect x="1501" y="32" width="87" height="637" fill="#fff"/>
<g class="ax" dominant-baseline="central" clip-path="url(#cax)">
<text x="1509" y="65">0.000500000</text>
<text x="1509" y="100">0.000350000</text>
<text x="1509" y="133">0.000250000</text>
<text x="1509" y="170.7">0.000170000</text>
<text x="1509" y="204.7">0.000120000</text>
<text x="1509" y="244.3">0.000080000</text>
<text x="1509" y="281">0.000055000</text>
<text x="1509" y="312.1">0.000040000</text>
<text x="1509" y="358">0.000025000</text>
<text x="1509" y="395.7">0.000017000</text>
<text x="1509" y="429.7">0.000012000</text>
<text x="1509" y="469.3">0.000008000</text>
<text x="1509" y="506">0.000005500</text>
<text x="1509" y="539.5">0.000003900</text>
<text x="1509" y="571.9">0.000002800</text>
</g>
<g class="ax" dominant-baseline="central">
<text x="1509" y="582">80.00</text>
<text x="1509" y="614">60.00</text>
<text x="1509" y="646">40.00</text>
</g>
<path d="M10 577.5H1588" stroke="#e0e3eb" stroke-width="1"/>
<rect x="1506.5" y="35.5" width="77" height="27" rx="4" fill="#fff" stroke="#e6e8ee"/>
<text x="1516" y="49" dominant-baseline="central" font-size="12" fill="#131722">USDT</text>

<rect x="1501" y="100.5" width="83" height="32" rx="2" fill="#26a69a"/>
<text x="1509" y="109" dominant-baseline="central" font-size="12" fill="#fff">0.000321653</text>
<text x="1509" y="124.5" dominant-baseline="central" font-size="12" fill="#fff">10:51:12</text>
<rect x="1432" y="102" width="67" height="16" rx="2" fill="#26a69a"/>
<text x="1465.5" y="110" dominant-baseline="central" text-anchor="middle" font-size="12" fill="#fff">TOSHIUSDT</text>

<!-- axis lines -->
<path d="M1501.5 32V669" stroke="#8c8c8c" stroke-width="1.3"/>
<path d="M10 669.5H1501" stroke="#999" stroke-width="1.5"/>
<path d="M1502 698V670H1588" fill="none" stroke="#4d4d4d" stroke-width="2"/>

<!-- time labels -->
<g class="tl" dominant-baseline="central">
<text x="126.5" y="684">17</text>
<text x="245" y="684">Nov</text>
<text x="340" y="684">13</text>
<text x="483" y="684">Dec</text>
<text x="618" y="684">18</text>
<text x="730" y="684" font-weight="bold">2024</text>
<text x="841" y="684">15</text>
<text x="976" y="684">Feb</text>
<text x="1063" y="684">12</text>
<text x="1206" y="684">Mar</text>
<text x="1341" y="684">18</text>
<text x="1453" y="684">Apr</text>
</g>

<!-- logo -->
<g fill="#131722">
<path d="M11.7 712.7H21.5V723.3H17.3V716.6H11.7Z"/>
<circle cx="24.3" cy="714.7" r="2"/>
<path d="M27.2 712.7H32.5L27.4 723.3H22.2Z"/>
</g>
<text x="36.5" y="719" dominant-baseline="central" font-size="14" fill="#131722" textLength="78" lengthAdjust="spacingAndGlyphs">TradingView</text>
</svg>
</body></html>
